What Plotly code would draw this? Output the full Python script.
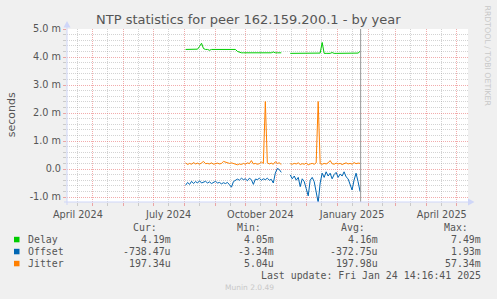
import plotly.graph_objects as go
import pandas as pd
import numpy as np

# ---------------- data (milliseconds) ----------------
seg1_start = "2024-08-02"
seg2_start = "2024-11-15"
step = "2D"

delay_seg1 = [4.27, 4.27, 4.27, 4.27, 4.27, 4.27, 4.28, 4.38, 4.49, 4.30,
              4.27, 4.27, 4.24, 4.27, 4.27, 4.25, 4.25, 4.27, 4.27, 4.27,
              4.27, 4.25, 4.25, 4.26, 4.27, 4.27, 4.20, 4.16, 4.15, 4.15,
              4.15, 4.15, 4.15, 4.15, 4.17, 4.15, 4.15, 4.15, 4.15, 4.15,
              4.15, 4.15, 4.15, 4.15, 4.18, 4.15, 4.15, 4.15, 4.15]
offset_seg1 = [-0.58, -0.48, -0.55, -0.44, -0.52, -0.45, -0.50, -0.42, -0.50, -0.46,
               -0.44, -0.50, -0.46, -0.52, -0.47, -0.44, -0.50, -0.48, -0.53, -0.49,
               -0.52, -0.48, -0.56, -0.65, -0.45, -0.40, -0.36, -0.40, -0.33, -0.38,
               -0.35, -0.42, -0.33, -0.38, -0.55, -0.36, -0.38, -0.33, -0.40, -0.35,
               -0.38, -0.33, -0.40, -0.37, -0.50, -0.15, 0.02, -0.02, -0.12]
jitter_seg1 = [0.22, 0.16, 0.20, 0.17, 0.23, 0.18, 0.21, 0.17, 0.22, 0.27,
               0.19, 0.20, 0.18, 0.22, 0.17, 0.19, 0.21, 0.18, 0.20, 0.27,
               0.24, 0.22, 0.20, 0.22, 0.19, 0.17, 0.15, 0.18, 0.16, 0.20,
               0.17, 0.22, 0.19, 0.30, 0.18, 0.20, 0.17, 0.19, 0.25, 0.20,
               2.41, 0.22, 0.18, 0.21, 0.17, 0.26, 0.20, 0.22, 0.16]

delay_seg2 = [4.13, 4.13, 4.13, 4.13, 4.13, 4.13, 4.13, 4.13, 4.13, 4.13,
              4.13, 4.13, 4.13, 4.13, 4.13, 4.14, 4.52, 4.13, 4.13, 4.13,
              4.13, 4.16, 4.13, 4.13, 4.13, 4.13, 4.13, 4.13, 4.13, 4.13,
              4.13, 4.13, 4.13, 4.13, 4.14, 4.20]
offset_seg2 = [-0.21, -0.35, -0.25, -0.40, -0.30, -0.63, -0.35, -0.45, -0.70, -0.96,
               -0.40, -0.30, -0.45, -0.80, -1.20, -0.50, -0.15, -0.30, -0.10, -0.25,
               -0.15, -0.35, -0.20, -0.12, -0.30, -0.18, -0.25, -0.10, -0.28, -0.35,
               -0.55, -0.75, -0.40, -0.15, -0.45, -0.80]
jitter_seg2 = [0.19, 0.17, 0.20, 0.18, 0.22, 0.16, 0.19, 0.17, 0.21, 0.15,
               0.18, 0.20, 0.17, 0.22, 2.41, 0.19, 0.17, 0.20, 0.18, 0.22,
               0.30, 0.19, 0.17, 0.21, 0.18, 0.20, 0.16, 0.19, 0.22, 0.18,
               0.20, 0.17, 0.23, 0.19, 0.21, 0.20]

series_names = ["Delay", "Offset", "Jitter"]
series_colors = ["#00CC00", "#0066B3", "#FF8000"]
cur_vals = ["4.19m", "-738.47u", "197.34u"]
min_vals = ["4.05m", "-3.34m", "5.04u"]
avg_vals = ["4.16m", "-372.75u", "197.98u"]
max_vals = ["7.49m", "1.93m", "57.34m"]

y_tick_vals = [-1, 0, 1, 2, 3, 4, 5]
y_tick_text = ["-1.0 m", "0.0", "1.0 m", "2.0 m", "3.0 m", "4.0 m", "5.0 m"]
x_label_months = {"2024-04": "April 2024", "2024-07": "July 2024", "2024-10": "October 2024",
                  "2025-01": "January 2025", "2025-04": "April 2025"}
last_update = "2025-01-24 14:16:41"

# ---------------- build x ----------------
d1 = pd.date_range(seg1_start, periods=len(delay_seg1), freq=step)
d2 = pd.date_range(seg2_start, periods=len(delay_seg2), freq=step)
x_all = list(d1) + [d1[-1] + pd.Timedelta(days=1)] + list(d2)


def join(a, b):
    return list(a) + [None] + list(b)


series = [join(delay_seg1, delay_seg2), join(offset_seg1, offset_seg2), join(jitter_seg1, jitter_seg2)]

fig = go.Figure()
for name, col, ys in zip(series_names, series_colors, series):
    fig.add_trace(go.Scatter(x=x_all, y=ys, mode="lines", name=name,
                             line=dict(color=col, width=1), connectgaps=False,
                             hoverinfo="skip"))

# ---------------- geometry ----------------
W, H = 497, 299
PL, PR, PT, PB = 67, 468, 29, 202
PW, PH = PR - PL, PB - PT


def px(x):
    return (x - PL) / PW


def py(y):
    return (PB - y) / PH


FONT = "DejaVu Sans"
MONO = "DejaVu Sans Mono"
TXT = "#555555"
GRID = "rgba(150,150,150,0.42)"
MGRID = "rgba(230,90,90,0.5)"
AXIS = "#CFD6F8"

month_starts = pd.date_range("2024-04-01", "2025-06-01", freq="MS")
mid_months = [m + pd.Timedelta(days=15) for m in month_starts]
tick_text = [x_label_months.get(m.strftime("%Y-%m"), "") for m in month_starts]

x_range = ["2024-04-05 01:00", "2025-05-12 07:00"]
y_range = [-1.0 - 5.0 / 28.0, 5.0]

minor_y = [round(v, 1) for v in np.arange(-1.0, 5.01, 0.2) if abs(v - round(v)) > 1e-6]

fig.update_layout(
    width=W, height=H, autosize=False,
    margin=dict(l=PL, r=W - PR, t=PT, b=H - PB, pad=0),
    paper_bgcolor="#F0F0F0", plot_bgcolor="#FFFFFF",
    showlegend=False,
    font=dict(family=FONT, color=TXT),
    xaxis=dict(type="date", range=x_range, tickmode="array",
               tickvals=mid_months, ticktext=tick_text,
               showgrid=True, gridcolor=GRID, griddash="1px,1px", gridwidth=1,
               ticks="outside", ticklen=3, tickcolor=GRID,
               tickfont=dict(family=FONT, size=9.7, color=TXT),
               minor=dict(tickmode="array", tickvals=list(month_starts), showgrid=True,
                          gridcolor=MGRID, griddash="1px,1px", gridwidth=1,
                          ticks="outside", ticklen=3, tickcolor=MGRID),
               showline=False, zeroline=False, fixedrange=True),
    yaxis=dict(range=y_range, tickmode="array", tickvals=y_tick_vals, ticktext=y_tick_text,
               showgrid=True, gridcolor=MGRID, griddash="1px,1px", gridwidth=1,
               ticks="outside", ticklen=3, tickcolor=MGRID,
               tickfont=dict(family=FONT, size=9.7, color=TXT),
               minor=dict(tickmode="array", tickvals=minor_y, showgrid=True,
                          gridcolor=GRID, griddash="1px,1px", gridwidth=1,
                          ticks="outside", ticklen=3, tickcolor=GRID),
               showline=False, zeroline=False, fixedrange=True),
)

shapes = []
# "now" rule
shapes.append(dict(type="line", xref="x", yref="paper", x0=last_update, x1=last_update,
                   y0=0, y1=1, line=dict(color="#999999", width=1)))
# axes with arrows
shapes.append(dict(type="line", xref="paper", yref="paper", x0=px(67), x1=px(67),
                   y0=py(205), y1=py(26), line=dict(color=AXIS, width=1)))
shapes.append(dict(type="line", xref="paper", yref="paper", x0=px(64), x1=px(470),
                   y0=py(202), y1=py(202), line=dict(color=AXIS, width=1)))
shapes.append(dict(type="path", xref="paper", yref="paper",
                   path=f"M {px(67)} {py(21)} L {px(63.5)} {py(27.5)} L {px(70.5)} {py(27.5)} Z",
                   fillcolor=AXIS, line=dict(color=AXIS, width=0)))
shapes.append(dict(type="path", xref="paper", yref="paper",
                   path=f"M {px(474.5)} {py(202)} L {px(468)} {py(198.5)} L {px(468)} {py(205.5)} Z",
                   fillcolor=AXIS, line=dict(color=AXIS, width=0)))

annotations = []


def ann(text, x, y, size, color=TXT, family=FONT, xanchor="left", angle=0):
    annotations.append(dict(text=text, x=px(x), y=py(y), xref="paper", yref="paper",
                            xanchor=xanchor, yanchor="middle", showarrow=False,
                            textangle=angle,
                            font=dict(family=family, size=size, color=color)))


ann("NTP statistics for peer 162.159.200.1 - by year", 248, 19.5, 13, xanchor="center")
ann("seconds", 11, 115.3, 11, xanchor="center", angle=-90)
ann("RRDTOOL / TOBI OETIKER", 487, 55.5, 7.8, color="#C8C8C8", xanchor="center", angle=90)

row_y = [239.3, 251.3, 263.3]
header_y = 227.7
col_head_right = [159.3, 263.3, 366.7, 470]
col_val_right = [173, 276, 380, 482.7]
for h, xr in zip(["Cur:", "Min:", "Avg:", "Max:"], col_head_right):
    ann(h, xr, header_y, 9.9, family=MONO, xanchor="right")

for i, (name, col) in enumerate(zip(series_names, series_colors)):
    yy = row_y[i]
    shapes.append(dict(type="rect", xref="paper", yref="paper",
                       x0=px(14), x1=px(19.5), y0=py(yy + 3), y1=py(yy - 2.5),
                       fillcolor=col, line=dict(width=0)))
    ann(name, 26, yy, 9.9, family=MONO)
    for vals, xr in zip([cur_vals, min_vals, avg_vals, max_vals], col_val_right):
        ann(vals[i], xr, yy, 9.9, family=MONO, xanchor="right")

ann("Last update: Fri Jan 24 14:16:41 2025", 482.7, 275.3, 9.9, family=MONO, xanchor="right")
ann("Munin 2.0.49", 249, 287.7, 7.5, color="#C8C8C8", xanchor="center")

fig.update_layout(shapes=shapes, annotations=annotations)
fig.write_html("out.html")
